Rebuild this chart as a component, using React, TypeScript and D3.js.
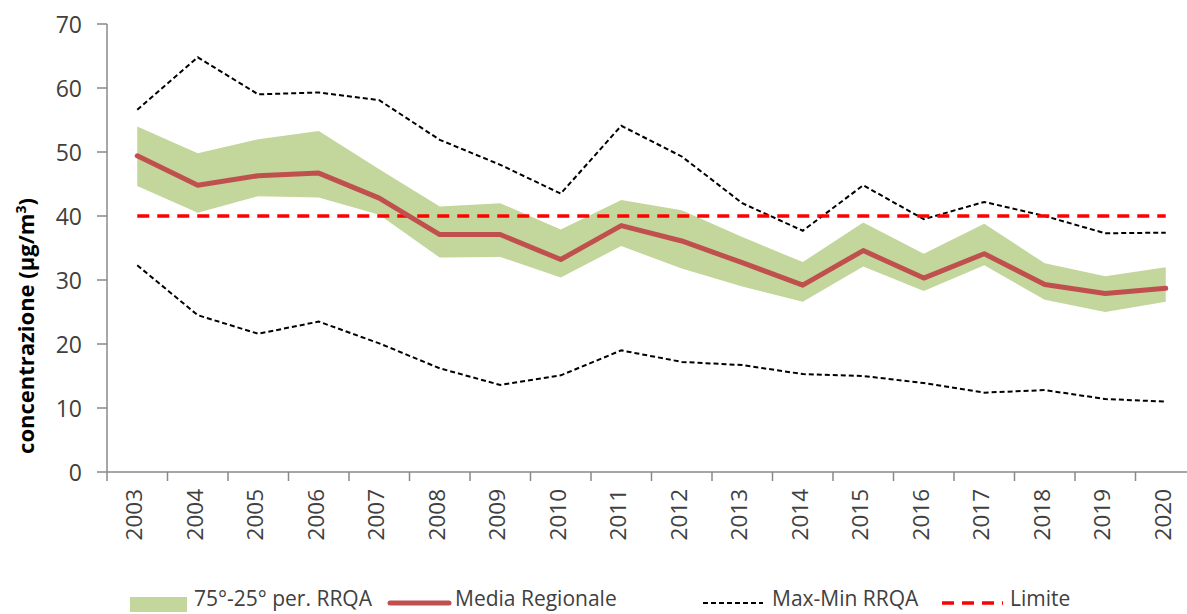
import React from "react";
import * as d3 from "d3";

const years = ["2003","2004","2005","2006","2007","2008","2009","2010","2011","2012","2013","2014","2015","2016","2017","2018","2019","2020"];
const media = [49.4,44.8,46.3,46.7,42.8,37.1,37.1,33.2,38.5,36.1,32.7,29.2,34.6,30.3,34.1,29.3,27.9,28.7];
const p75 = [54.0,49.8,52.0,53.3,47.3,41.5,42.0,37.9,42.5,40.9,36.7,32.8,39.0,34.1,38.8,32.6,30.6,32.0];
const p25 = [44.7,40.5,43.1,42.9,40.2,33.5,33.6,30.4,35.3,31.8,29.0,26.6,32.1,28.3,32.3,26.9,25.0,26.6];
const maxV = [56.6,64.8,59.0,59.3,58.1,51.9,48.0,43.5,54.1,49.3,42.0,37.7,44.8,39.5,42.2,40.0,37.3,37.4];
const minV = [32.3,24.5,21.6,23.5,20.1,16.2,13.6,15.1,19.0,17.2,16.7,15.3,15.0,13.9,12.4,12.8,11.4,11.0];
const limite = 40;
const yTicks = [0,10,20,30,40,50,60,70];
const legendLabels = ["75°-25° per. RRQA","Media Regionale","Max-Min RRQA","Limite"];

const FONT = "'Open Sans', 'Noto Sans', sans-serif";
const TXT = "#404040";
const AX = "#898989";

export default function App() {
  const x = d3.scaleBand<string>().domain(years).range([107, 107 + 18 * 60.5]).padding(0);
  const y = d3.scaleLinear().domain([0, 70]).range([472, 24]);
  const cx = (i: number) => (x(years[i]) as number) + x.bandwidth() / 2;

  const area = d3.area<number>()
    .x((_, i) => cx(i))
    .y0((_, i) => y(p25[i]))
    .y1((d) => y(d));
  const line = d3.line<number>().x((_, i) => cx(i)).y((d) => y(d));

  return (
    <svg width={1187} height={614} style={{ position: "fixed", left: 0, top: 0, background: "#fff" }} fontFamily={FONT}>
      <rect x={0} y={0} width={1187} height={614} fill="#fff" />
      <path d={area(p75) || ""} fill="#C3D69B" stroke="none" />
      <path d={line(maxV) || ""} fill="none" stroke="#000" strokeWidth={2} strokeDasharray="5,3" />
      <path d={line(minV) || ""} fill="none" stroke="#000" strokeWidth={2} strokeDasharray="5,3" />
      <line x1={cx(0)} x2={cx(years.length - 1)} y1={y(limite)} y2={y(limite)} stroke="#FF0000" strokeWidth={3.5} strokeDasharray="12,8" />
      <path d={line(media) || ""} fill="none" stroke="#C0504D" strokeWidth={5} strokeLinejoin="round" strokeLinecap="round" />

      <line x1={107} x2={107} y1={y(70)} y2={y(0)} stroke={AX} strokeWidth={1.5} />
      {yTicks.map((t) => (
        <g key={t}>
          <line x1={97} x2={107} y1={y(t)} y2={y(t)} stroke={AX} strokeWidth={1.5} />
          <text x={82} y={y(t)} textAnchor="end" dominantBaseline="central" fontSize={23} fill={TXT}>{t}</text>
        </g>
      ))}
      <line x1={107} x2={1187} y1={y(0)} y2={y(0)} stroke={AX} strokeWidth={1.5} />
      {years.map((yr) => (
        <line key={"t" + yr} x1={x(yr) as number} x2={x(yr) as number} y1={y(0)} y2={y(0) + 9} stroke={AX} strokeWidth={1.5} />
      ))}
      {years.map((yr, i) => (
        <text key={yr} transform={`translate(${cx(i) + 5},489) rotate(-90)`} textAnchor="end" fontSize={22.5} fill={TXT}>{yr}</text>
      ))}
      <text transform={`translate(34,326) rotate(-90)`} textAnchor="middle" fontSize={22} fontWeight="bold" fill="#000">
        concentrazione (µg/m<tspan dy={-8} fontSize={14}>3</tspan><tspan dy={8}>)</tspan>
      </text>

      <rect x={130} y={597} width={57} height={15} fill="#C3D69B" />
      <text x={194} y={606} fontSize={21} fill={TXT}>{legendLabels[0]}</text>
      <line x1={390} x2={449} y1={603} y2={603} stroke="#C0504D" strokeWidth={5} strokeLinecap="round" />
      <text x={455} y={606} fontSize={21} fill={TXT}>{legendLabels[1]}</text>
      <line x1={703} x2={763} y1={603} y2={603} stroke="#000" strokeWidth={2} strokeDasharray="5,3" />
      <text x={772} y={606} fontSize={21} fill={TXT}>{legendLabels[2]}</text>
      <line x1={942} x2={1003} y1={603} y2={603} stroke="#FF0000" strokeWidth={3.5} strokeDasharray="12,8" />
      <text x={1010} y={606} fontSize={21} fill={TXT}>{legendLabels[3]}</text>
    </svg>
  );
}
